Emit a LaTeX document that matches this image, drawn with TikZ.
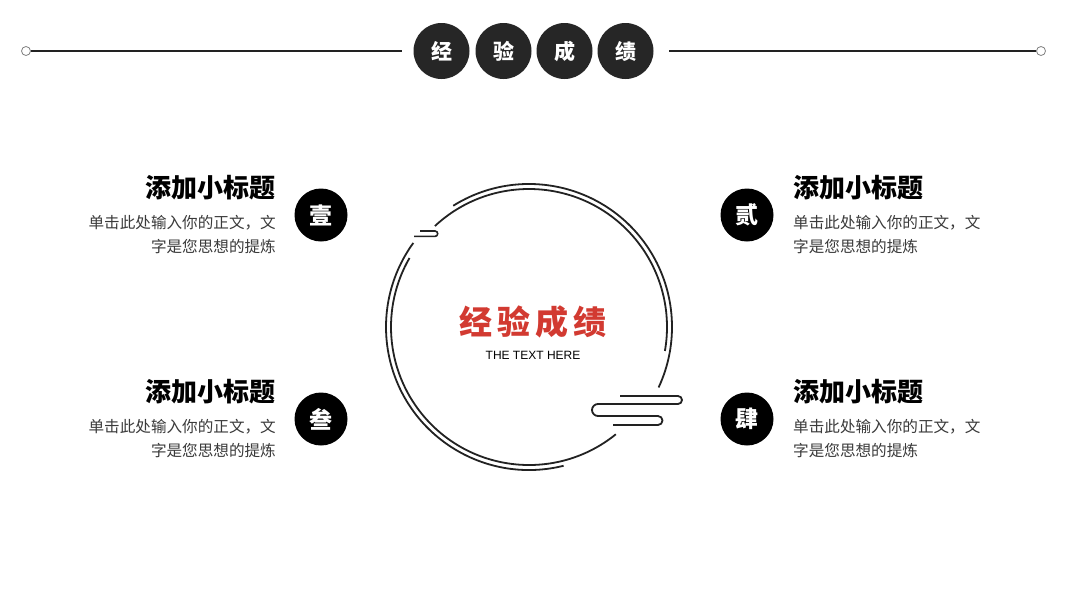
\documentclass[tikz,border=0pt]{standalone}
\usepackage{fontspec}
\newfontfamily\cjk{Noto Sans CJK SC}
\setsansfont{Liberation Sans}
\definecolor{ink}{HTML}{222222}
\definecolor{disc}{HTML}{262626}
\definecolor{redt}{HTML}{D23A31}
\definecolor{bodyg}{HTML}{3A3A3A}
\begin{document}
\begin{tikzpicture}[x=1pt,y=-1pt,
  ring/.style={draw=ink,line width=1.8pt},
  topdisc/.style={circle,fill=disc,minimum size=56pt,inner sep=0pt,text=white,font=\cjk\bfseries\fontsize{21}{21}\selectfont},
  numdisc/.style={circle,fill=black,minimum size=53pt,inner sep=0pt,text=white,font=\cjk\bfseries\fontsize{23}{23}\selectfont},
  headl/.style={inner sep=0pt,font=\cjk\bfseries\fontsize{26}{26}\selectfont,text=black},
  bodyt/.style={inner sep=0pt,font=\cjk\fontsize{15.6}{24}\selectfont,text=bodyg},
  endcirc/.style={circle,draw=gray,fill=white,line width=0.8pt,minimum size=9pt,inner sep=0pt},
  hline/.style={draw=ink,line width=1.4pt}
]
\useasboundingbox (0,0) rectangle (1067,600);
\fill[white] (0,0) rectangle (1067,600);

% top bar
\node[endcirc] (el) at (26,51) {};
\node[endcirc] (er) at (1041,51) {};
\coordinate (lend) at (402,51);
\coordinate (rstart) at (669,51);
\draw[hline] (el) -- (lend);
\draw[hline] (rstart) -- (er);
\node[topdisc] (t1) at (441.5,51) {经};
\node[topdisc] (t2) at (503.5,51) {验};
\node[topdisc] (t3) at (564.5,51) {成};
\node[topdisc] (t4) at (625.5,51) {绩};

% central rings
\coordinate (c) at (529,327);
\draw[ring] (c) ++(-122:143) arc[start angle=-122,end angle=25,radius=143];
\draw[ring] (c) ++(76:143) arc[start angle=76,end angle=216,radius=143];
\draw[ring] (c) ++(-133:138) arc[start angle=-133,end angle=10,radius=138];
\draw[ring] (c) ++(51:138) arc[start angle=51,end angle=210,radius=138];

% small cloud upper left
\draw[ring,line width=1.6pt] (420,231) -- (435,231) arc[start angle=-90,end angle=90,radius=2.7] -- (414,236.4);
% cloud lower right
\draw[ring] (620,396) -- (678,396) arc[start angle=-90,end angle=90,radius=4]
  -- (598,404) arc[start angle=-90,end angle=-270,radius=6]
  -- (658,416) arc[start angle=-90,end angle=90,radius=4.5] -- (613,425);

% central text
\node[font=\cjk\bfseries\fontsize{33}{33}\selectfont,text=redt] (title) at (533,322) {经\hspace{5pt}验\hspace{5pt}成\hspace{5pt}绩};
\node[font=\sffamily\fontsize{12}{12}\selectfont,text=black,inner sep=0pt] (sub) at (533,355) {THE TEXT HERE};

% left items
\node[numdisc] (n1) at (321,215) {壹};
\node[headl,anchor=east] (h1) at (276,188) {添加小标题};
\node[bodyt,anchor=north east,align=right] (b1) at (276,215) {单击此处输入你的正文，文\\字是您思想的提炼};

\node[numdisc] (n3) at (321,419) {叁};
\node[headl,anchor=east] (h3) at (276,392) {添加小标题};
\node[bodyt,anchor=north east,align=right] (b3) at (276,419) {单击此处输入你的正文，文\\字是您思想的提炼};

% right items
\node[numdisc] (n2) at (747,215) {贰};
\node[headl,anchor=west] (h2) at (793,188) {添加小标题};
\node[bodyt,anchor=north west,align=left] (b2) at (793,215) {单击此处输入你的正文，文\\字是您思想的提炼};

\node[numdisc] (n4) at (747,419) {肆};
\node[headl,anchor=west] (h4) at (793,392) {添加小标题};
\node[bodyt,anchor=north west,align=left] (b4) at (793,419) {单击此处输入你的正文，文\\字是您思想的提炼};
\end{tikzpicture}
\end{document}
